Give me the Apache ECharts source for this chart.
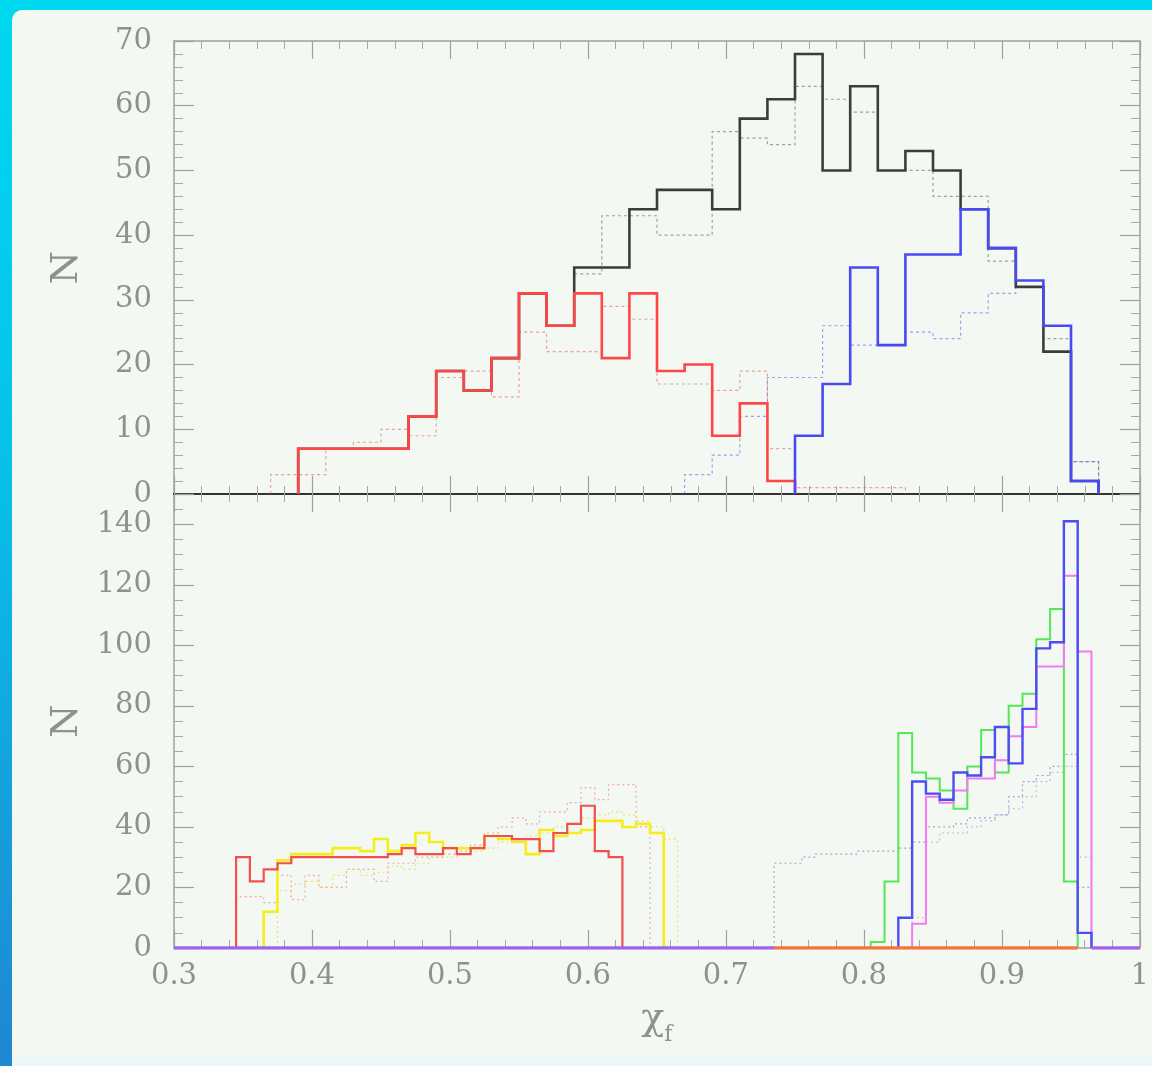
<!DOCTYPE html>
<html>
<head>
<meta charset="utf-8">
<script src="https://cdn.jsdelivr.net/npm/echarts@6/dist/echarts.min.js"></script>
<style>
  html, body { margin: 0; padding: 0; width: 1152px; height: 1066px; overflow: hidden; }
  body { background: linear-gradient(180deg, #00d8f0 0%, #07c0ea 45%, #1f86d2 100%); position: relative; }
  #panel { position: absolute; left: 12px; top: 10px; right: 0; bottom: 0; background: #f3f8f2; border-top-left-radius: 10px; }
  #strip { position: absolute; left: 12px; right: 0; bottom: 0; height: 12px; background: #edf7f8; }
  #chart { position: absolute; left: 0; top: 0; width: 1152px; height: 1066px; }
</style>
</head>
<body>
<div id="panel"></div>
<div id="strip"></div>
<div id="chart"></div>
<script>
// ---------- axes ----------
const xMin = 0.3, xMax = 1.0;
const topYMax = 70, topYStep = 10;
const botYMax = 150, botYStep = 20;

// ---------- top panel (bin width 0.02) ----------
const topWidth = 0.02;
const topTotalStart = 0.39;
const topTotal = [7,7,7,7,12,19,16,21,31,26,35,35,44,47,47,44,58,61,68,50,63,50,53,50,44,38,32,22,2];
const topRedStart = 0.39;
const topRed = [7,7,7,7,12,19,16,21,31,26,31,21,31,19,20,9,14,2];
const topBlueStart = 0.75;
const topBlue = [9,17,35,23,37,37,44,38,33,26,2];
const topTotalDotStart = 0.59;
const topTotalDot = [34,43,43,40,40,56,55,54,63,61,59,50,50,46,46,36,32,24,5];
const topRedDashStart = 0.37;
const topRedDash = [3,3,7,8,10,9,18,19,15,25,22,22,29,27,17,17,16,19,7,1,1,1,1];
const topBlueDashStart = 0.67;
const topBlueDash = [3,6,12,18,18,26,23,23,25,24,28,31,32,22,5];

// ---------- bottom panel (bin width 0.01) ----------
const botWidth = 0.01;
const botRedStart = 0.345;
const botRed = [30,22,26,28,30,30,30,30,30,30,30,31,33,31,31,33,31,33,37,37,36,36,32,38,41,47,32,30];
const botYellowStart = 0.365;
const botYellow = [12,29,31,31,31,33,33,32,36,32,34,38,35,33,33,33,37,36,35,31,39,37,38,39,42,42,40,41,38];
const botRedDotStart = 0.345;
const botRedDot = [17,17,15,24,16,24,20,20,26,26,22,28,28,30,30,31,32,34,38,40,43,41,45,45,48,53,49,54,54,40];
const botYellowDotStart = 0.375;
const botYellowDot = [19,21,22,20,24,26,24,25,27,26,28,30,30,31,32,33,35,36,37,38,40,41,43,44,45,44,42,40,36];
const botGreenStart = 0.805;
const botGreen = [2,22,71,58,56,52,46,60,72,58,80,84,102,112,22];
const botBlueStart = 0.825;
const botBlue = [10,55,51,49,58,57,63,73,61,79,99,101,141,5];
const botMagentaStart = 0.835;
const botMagenta = [8,50,48,52,56,56,62,70,73,93,93,123,98];
const botBlueDotStart = 0.735;
const botBlueDot = [28,28,30,31,31,31,32,32,32,33,35,40,40,41,43,43,44,50,55,57,60,64,20];
const botMagentaDotStart = 0.835;
const botMagentaDot = [10,35,38,38,40,42,44,46,50,55,58,60,30];
// zero-count runs along the bottom baseline
const zeroPurpleSpans = [[0.3, 0.735], [0.965, 1.0]];
const zeroOrangeSpans = [[0.735, 0.955]];

function steps(start, w, counts, openLeft) {
  const pts = openLeft ? [] : [[start, 0]];
  counts.forEach((c, i) => {
    const a = +(start + i * w).toFixed(4), b = +(start + (i + 1) * w).toFixed(4);
    pts.push([a, c], [b, c]);
  });
  pts.push([+(start + counts.length * w).toFixed(4), 0]);
  return pts;
}

function lineSeries(name, data, grid, color, width, type, z) {
  return {
    name: name, type: 'line', xAxisIndex: grid * 2, yAxisIndex: grid * 2,
    data: data, showSymbol: false, symbol: 'none', animation: false, silent: true,
    clip: true, z: z || 3,
    lineStyle: { color: color, width: width, type: type || 'solid', cap: 'butt', join: 'miter' }
  };
}

const labelFont = { fontFamily: 'DejaVu Serif', fontSize: 29, color: '#909090' };
const frame = { lineStyle: { color: '#a0a0a0', width: 1.5 } };

function xAxis(grid, pos, showLabel, lineStyle) {
  return {
    type: 'value', gridIndex: grid, position: pos, min: xMin, max: xMax, interval: 0.1,
    axisLine: { show: true, onZero: false, lineStyle: lineStyle || frame.lineStyle },
    axisTick: { show: true, inside: true, length: 18, lineStyle: { color: '#a0a0a0', width: 1.2 } },
    minorTick: { show: true, splitNumber: 5, length: 8, lineStyle: { color: '#a8a8a8', width: 1 } },
    splitLine: { show: false },
    axisLabel: Object.assign({ show: showLabel, margin: 14,
      formatter: v => (Math.round(v * 10) / 10).toString() }, labelFont),
    name: showLabel ? '{a|χ}{b|f}' : '', nameLocation: 'middle', nameGap: 52,
    nameTextStyle: { rich: {
      a: { fontFamily: 'DejaVu Serif', fontSize: 38, color: '#909090', verticalAlign: 'top', lineHeight: 44 },
      b: { fontFamily: 'DejaVu Serif', fontSize: 22, color: '#909090', verticalAlign: 'top', lineHeight: 26, padding: [24, 0, 0, 0] }
    } }
  };
}
function yAxis(grid, pos, max, step, minorSplit, showLabel) {
  return {
    type: 'value', gridIndex: grid, position: pos, min: 0, max: max, interval: step,
    axisLine: { show: true, lineStyle: frame.lineStyle },
    axisTick: { show: true, inside: true, length: 20, lineStyle: { color: '#a0a0a0', width: 1.2 } },
    minorTick: { show: true, splitNumber: minorSplit, length: 9, lineStyle: { color: '#a8a8a8', width: 1 } },
    splitLine: { show: false },
    axisLabel: Object.assign({ show: showLabel, margin: 22, showMaxLabel: max === topYMax }, labelFont),
    name: showLabel ? 'N' : '', nameLocation: 'middle', nameGap: 88, nameRotate: 90,
    nameTextStyle: { fontFamily: 'DejaVu Serif', fontSize: 38, color: '#909090' }
  };
}

const series = [
  // top panel
  lineSeries('total dotted', steps(topTotalDotStart, topWidth, topTotalDot, true), 0, 'rgba(90,90,90,0.55)', 1.2, [3, 3], 2),
  lineSeries('red dashed', steps(topRedDashStart, topWidth, topRedDash), 0, 'rgba(220,90,90,0.55)', 1.2, [3, 3], 2),
  lineSeries('blue dashed', steps(topBlueDashStart, topWidth, topBlueDash), 0, 'rgba(90,90,220,0.55)', 1.2, [3, 3], 2),
  lineSeries('total', steps(topTotalStart, topWidth, topTotal), 0, '#3c3c3c', 2.6, 'solid', 3),
  lineSeries('red', steps(topRedStart, topWidth, topRed), 0, '#ff4646', 2.6, 'solid', 4),
  lineSeries('blue', steps(topBlueStart, topWidth, topBlue), 0, '#4a4af5', 2.6, 'solid', 4),
  // bottom panel
  lineSeries('red dotted', steps(botRedDotStart, botWidth, botRedDot), 1, 'rgba(235,120,120,0.6)', 1.2, [2, 3], 2),
  lineSeries('yellow dotted', steps(botYellowDotStart, botWidth, botYellowDot), 1, 'rgba(235,215,60,0.7)', 1.2, [2, 3], 2),
  lineSeries('blue dotted', steps(botBlueDotStart, botWidth, botBlueDot), 1, 'rgba(110,110,200,0.6)', 1.2, [2, 3], 2),
  lineSeries('magenta dotted', steps(botMagentaDotStart, botWidth, botMagentaDot), 1, 'rgba(200,120,200,0.55)', 1.2, [2, 3], 2),
  lineSeries('green', steps(botGreenStart, botWidth, botGreen), 1, '#55e855', 2, 'solid', 3),
  lineSeries('magenta', steps(botMagentaStart, botWidth, botMagenta), 1, '#f27af2', 2, 'solid', 4),
  lineSeries('blue', steps(botBlueStart, botWidth, botBlue), 1, '#4d4df2', 2.4, 'solid', 5),
  lineSeries('yellow', steps(botYellowStart, botWidth, botYellow), 1, '#f4ee1c', 2.6, 'solid', 5),
  lineSeries('red', steps(botRedStart, botWidth, botRed), 1, '#f25050', 2.2, 'solid', 6)
];
zeroPurpleSpans.forEach(s => series.push(lineSeries('zero', [[s[0], 0], [s[1], 0]], 1, '#a064ec', 3.5, 'solid', 7)));
zeroOrangeSpans.forEach(s => series.push(lineSeries('zero', [[s[0], 0], [s[1], 0]], 1, '#f4743a', 3.5, 'solid', 7)));

const chart = echarts.init(document.getElementById('chart'), null, { renderer: 'canvas' });
chart.setOption({
  backgroundColor: 'transparent',
  animation: false,
  grid: [
    { left: 174, right: 12, top: 41, height: 453 },
    { left: 174, right: 12, top: 494, height: 454 }
  ],
  xAxis: [
    xAxis(0, 'bottom', false, { color: '#333333', width: 2.2 }),
    xAxis(0, 'top', false),
    xAxis(1, 'bottom', true),
    xAxis(1, 'top', false, { color: '#333333', width: 2.2 })
  ],
  yAxis: [
    yAxis(0, 'left', topYMax, topYStep, 5, true),
    yAxis(0, 'right', topYMax, topYStep, 5, false),
    yAxis(1, 'left', botYMax, botYStep, 4, true),
    yAxis(1, 'right', botYMax, botYStep, 4, false)
  ],
  series: series
});
</script>
</body>
</html>
